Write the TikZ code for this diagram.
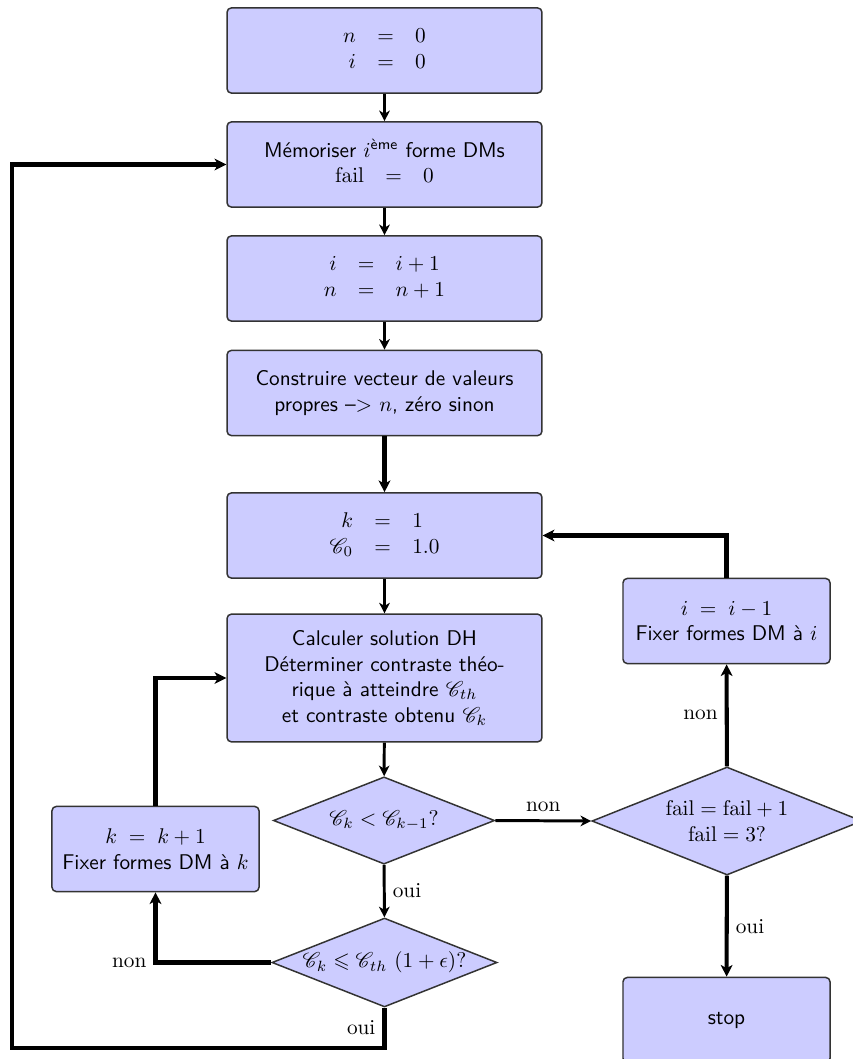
\documentclass[tikz,border=0pt]{standalone}
\usepackage{amsmath,amssymb}
\usepackage{mathrsfs}
\usetikzlibrary{shapes.geometric,arrows.meta}
\begin{document}
\begin{tikzpicture}[x=0.47pt,y=-0.47pt,
  box/.style={draw=black!80,line width=0.7pt,fill=blue!20,rounded corners=2pt,
    minimum width=148pt,minimum height=40pt,align=center,font=\sffamily,inner sep=2pt},
  sbox/.style={box,minimum width=97.3pt},
  dec/.style={draw=black!80,line width=0.7pt,fill=blue!20,diamond,aspect=2.5,inner sep=0pt,align=center},
  arr/.style={line width=1.4pt,-{Stealth[length=5pt,width=5pt,inset=1.5pt]}},
  arrb/.style={line width=1.9pt,-{Stealth[length=5.5pt,width=5.5pt,inset=1.5pt]}},
  lab/.style={font=\rmfamily}]
\useasboundingbox (0,0) rectangle (853,1059);
\node[box] (b1) at (384.5,50.5) {$\begin{array}{rcl} n &=& 0\\ i &=& 0\end{array}$};
\node[box] (b2) at (384.5,164.5) {Mémoriser $i^{\text{ème}}$ forme DMs\\ $\begin{array}{rcl}\mathrm{fail} &=& 0\end{array}$};
\node[box] (b3) at (384.5,278.5) {$\begin{array}{rcl} i &=& i+1\\ n &=& n+1\end{array}$};
\node[box] (b4) at (384.5,393) {Construire vecteur de valeurs\\ propres \textendash> $n$, zéro sinon};
\node[box] (b5) at (384.5,535.5) {$\begin{array}{rcl} k &=& 1\\ \mathscr{C}_0 &=& 1.0\end{array}$};
\node[box,minimum height=60pt] (b6) at (384.5,678) {Calculer solution DH\\ Déterminer contraste théo-\\ rique à atteindre $\mathscr{C}_{th}$\\ et contraste obtenu $\mathscr{C}_k$};
\node[dec,minimum width=104pt,minimum height=41pt] (d1) at (384,820.5) {$\mathscr{C}_k < \mathscr{C}_{k-1}$?};
\node[dec,minimum width=105.8pt,minimum height=41.8pt] (d2) at (384.5,962.5) {$\mathscr{C}_k \leqslant \mathscr{C}_{th}\ (1+\epsilon)$?};
\node[dec,minimum width=127pt,minimum height=50.8pt] (d3) at (727,821) {$\mathrm{fail}=\mathrm{fail}+1$\\ $\mathrm{fail}=3$?};
\node[sbox] (kb) at (155.5,849) {$k \;=\; k+1$\\ Fixer formes DM à $k$};
\node[sbox] (ib) at (726.5,621) {$i \;=\; i-1$\\ Fixer formes DM à $i$};
\node[sbox] (stop) at (726.5,1020) {stop};
\coordinate (c1) at (12,1048);
\draw[arr] (b1) -- (b2);
\draw[arr] (b2) -- (b3);
\draw[arr] (b3) -- (b4);
\draw[arrb] (b4) -- (b5);
\draw[arr] (b5) -- (b6);
\draw[arr] (b6) -- (d1);
\draw[arr] (d1) -- node[lab,right]{oui} (d2);
\draw[arr] (d1.east) -- node[lab,above]{non} (d3.west);
\draw[arrb] (d3) -- node[lab,left]{non} (ib);
\draw[arrb] (d3) -- node[lab,right]{oui} (stop);
\draw[arrb] (ib.north) |- (b5.east);
\draw[arrb] (d2.west) -| node[lab,pos=0.5,left]{non} (kb.south);
\draw[arrb] (kb.north) |- (b6.west);
\draw[arrb] (d2.south) -- node[lab,left]{oui} (d2.south |- c1) -- (c1) -- (c1 |- b2.west) -- (b2.west);
\end{tikzpicture}
\end{document}
